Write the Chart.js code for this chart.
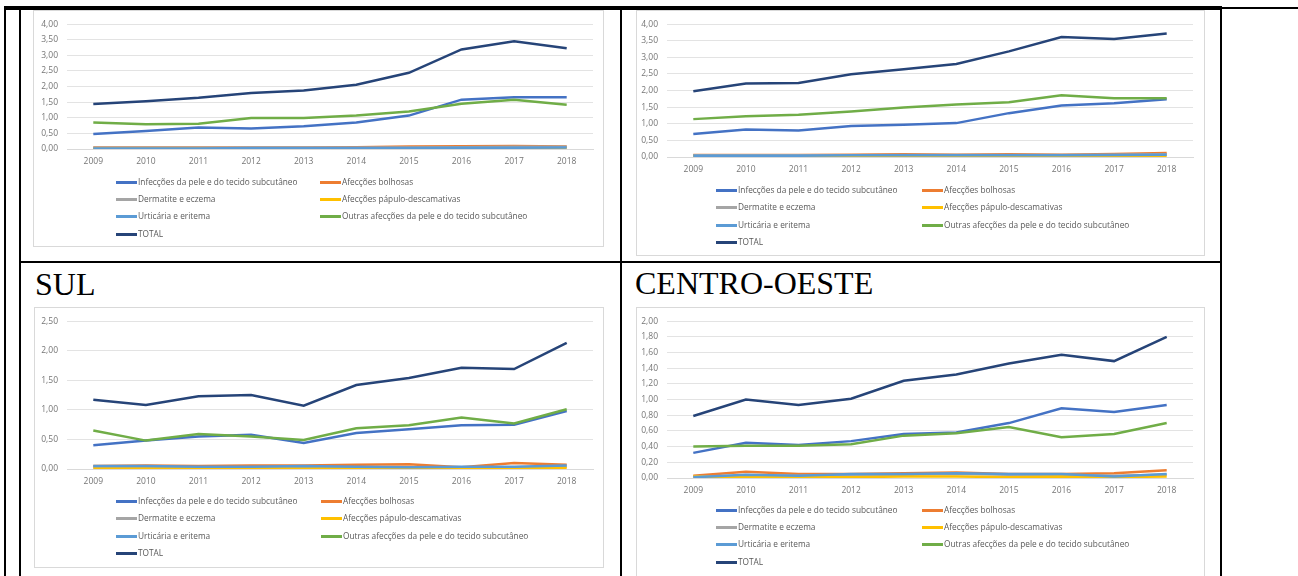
<!DOCTYPE html>
<html>
<head>
<meta charset="utf-8">
<script src="https://cdn.jsdelivr.net/npm/chart.js@4.4.1/dist/chart.umd.min.js"></script>
<style>
html, body { margin:0; padding:0; background:#fff; width:1298px; height:576px; overflow:hidden; }
body { position:relative; }
.ln { position:absolute; background:#000; }
.box { position:absolute; border:1px solid #d9d9d9; box-sizing:border-box; background:#fff; }
.cv { position:absolute; }
.titulo { position:absolute; font-family:'Liberation Serif','Times New Roman',serif; font-size:32px; line-height:32px; color:#000; }
.leg { position:absolute; font-family:'Open Sans',sans-serif; font-size:8.3px; color:#595959; white-space:nowrap; line-height:10px; height:10px; }
.leg i { position:absolute; left:0; top:4px; width:21px; height:3px; }
.leg span { position:absolute; left:22px; top:0; }
</style>
</head>
<body>

<!-- table lines -->
<div class="ln" style="left:4px;top:6px;width:1218px;height:4px"></div>
<div class="ln" style="left:1222px;top:7px;width:76px;height:2px"></div>
<div class="ln" style="left:4px;top:6px;width:2px;height:570px"></div>
<div class="ln" style="left:19px;top:6px;width:2px;height:570px"></div>
<div class="ln" style="left:620px;top:6px;width:2px;height:570px"></div>
<div class="ln" style="left:1220px;top:6px;width:2px;height:570px"></div>
<div class="ln" style="left:19px;top:261px;width:1203px;height:2px"></div>

<div class="titulo" style="left:35px;top:268px">SUL</div>
<div class="titulo" style="left:635px;top:267px">CENTRO-OESTE</div>

<script>
const anos = ['2009', '2010', '2011', '2012', '2013', '2014', '2015', '2016', '2017', '2018'];

const nomes = [
  'Infecções da pele e do tecido subcutâneo',
  'Afecções bolhosas',
  'Dermatite e eczema',
  'Afecções pápulo-descamativas',
  'Urticária e eritema',
  'Outras afecções da pele e do tecido subcutâneo',
  'TOTAL'
];
const cores = ['#4472C4', '#ED7D31', '#A5A5A5', '#FFC000', '#5B9BD5', '#70AD47', '#264478'];

// painel superior esquerdo
const aInfec  = [0.48, 0.58, 0.69, 0.66, 0.73, 0.85, 1.07, 1.58, 1.66, 1.66];
const aBolh   = [0.05, 0.05, 0.05, 0.05, 0.05, 0.06, 0.08, 0.09, 0.10, 0.08];
const aDerm   = [0.04, 0.04, 0.04, 0.04, 0.04, 0.04, 0.05, 0.06, 0.07, 0.07];
const aPapulo = [0.01, 0.01, 0.01, 0.01, 0.01, 0.01, 0.01, 0.02, 0.02, 0.02];
const aUrtic  = [0.02, 0.02, 0.02, 0.03, 0.03, 0.03, 0.03, 0.04, 0.04, 0.05];
const aOutras = [0.85, 0.79, 0.81, 0.99, 0.99, 1.07, 1.20, 1.45, 1.58, 1.42];
const aTotal  = [1.44, 1.53, 1.64, 1.79, 1.87, 2.06, 2.44, 3.19, 3.45, 3.23];

// painel superior direito
const bInfec  = [0.69, 0.83, 0.80, 0.93, 0.97, 1.02, 1.32, 1.55, 1.62, 1.74];
const bBolh   = [0.06, 0.06, 0.06, 0.07, 0.08, 0.07, 0.08, 0.07, 0.09, 0.12];
const bDerm   = [0.05, 0.05, 0.05, 0.05, 0.06, 0.06, 0.06, 0.06, 0.07, 0.08];
const bPapulo = [0.02, 0.02, 0.02, 0.02, 0.02, 0.02, 0.02, 0.02, 0.02, 0.03];
const bUrtic  = [0.04, 0.04, 0.04, 0.05, 0.05, 0.05, 0.05, 0.05, 0.06, 0.07];
const bOutras = [1.14, 1.23, 1.27, 1.37, 1.49, 1.58, 1.65, 1.86, 1.77, 1.77];
const bTotal  = [1.98, 2.21, 2.23, 2.49, 2.64, 2.80, 3.18, 3.61, 3.55, 3.72];

// SUL
const sulInfec  = [0.40, 0.48, 0.55, 0.58, 0.44, 0.61, 0.67, 0.74, 0.75, 0.98];
const sulBolh   = [0.05, 0.06, 0.05, 0.06, 0.06, 0.07, 0.08, 0.03, 0.10, 0.07];
const sulDerm   = [0.03, 0.03, 0.03, 0.03, 0.03, 0.03, 0.03, 0.03, 0.03, 0.04];
const sulPapulo = [0.01, 0.01, 0.01, 0.01, 0.01, 0.01, 0.01, 0.01, 0.01, 0.02];
const sulUrtic  = [0.05, 0.05, 0.04, 0.04, 0.05, 0.04, 0.03, 0.04, 0.04, 0.06];
const sulOutras = [0.65, 0.48, 0.59, 0.55, 0.49, 0.69, 0.74, 0.87, 0.77, 1.01];
const sulTotal  = [1.17, 1.08, 1.23, 1.25, 1.07, 1.42, 1.54, 1.71, 1.69, 2.13];

// CENTRO-OESTE
const coInfec  = [0.32, 0.45, 0.42, 0.47, 0.56, 0.58, 0.70, 0.89, 0.84, 0.93];
const coBolh   = [0.03, 0.08, 0.05, 0.05, 0.06, 0.07, 0.05, 0.05, 0.06, 0.10];
const coDerm   = [0.02, 0.03, 0.03, 0.04, 0.04, 0.05, 0.04, 0.04, 0.03, 0.04];
const coPapulo = [0.02, 0.01, 0.01, 0.01, 0.02, 0.02, 0.01, 0.02, 0.01, 0.02];
const coUrtic  = [0.01, 0.04, 0.03, 0.05, 0.05, 0.06, 0.05, 0.05, 0.02, 0.05];
const coOutras = [0.40, 0.41, 0.41, 0.43, 0.54, 0.57, 0.65, 0.52, 0.56, 0.70];
const coTotal  = [0.79, 1.00, 0.93, 1.01, 1.24, 1.32, 1.46, 1.57, 1.49, 1.80];

// eixo y de cada painel
const yMax  = [4, 4, 2.5, 2];
const yPasso = [0.5, 0.5, 0.5, 0.2];

const series = [
  [aInfec, aBolh, aDerm, aPapulo, aUrtic, aOutras, aTotal],
  [bInfec, bBolh, bDerm, bPapulo, bUrtic, bOutras, bTotal],
  [sulInfec, sulBolh, sulDerm, sulPapulo, sulUrtic, sulOutras, sulTotal],
  [coInfec, coBolh, coDerm, coPapulo, coUrtic, coOutras, coTotal]
];

// box: x, y, w, h ; plot: left, top, right, bottom (page px)
const layouts = [
  { box: [33, 10, 571, 237],  plot: [67, 21.5, 593, 149],  legTop: 182, legRow: 17.2, legCols: [116, 320] },
  { box: [636, 10, 569, 246], plot: [667, 22, 1193, 157],  legTop: 190, legRow: 17.4, legCols: [716, 922] },
  { box: [34, 307, 570, 261], plot: [67, 318.5, 593, 469], legTop: 501, legRow: 17.4, legCols: [116, 321] },
  { box: [636, 307, 569, 280], plot: [667, 318.5, 1193, 478], legTop: 509.5, legRow: 17.4, legCols: [716, 922] }
];

function fmt(v) {
  return v.toFixed(2).replace('.', ',');
}

function painel(k) {
  const L = layouts[k];
  const [bx, by, bw, bh] = L.box;
  const [pl, pt, pr, pb] = L.plot;

  const box = document.createElement('div');
  box.className = 'box';
  box.style.cssText = `left:${bx}px;top:${by}px;width:${bw}px;height:${bh}px`;
  document.body.appendChild(box);

  const canvas = document.createElement('canvas');
  canvas.className = 'cv';
  canvas.width = bw;
  canvas.height = bh;
  canvas.style.cssText = `left:${bx}px;top:${by}px;width:${bw}px;height:${bh}px`;
  document.body.appendChild(canvas);

  const datasets = nomes.map((nome, i) => ({
    label: nome,
    data: series[k][i],
    borderColor: cores[i],
    backgroundColor: cores[i],
    borderWidth: 2.5,
    pointRadius: 0,
    tension: 0,
    fill: false,
    order: nomes.length - i
  }));

  const chart = new Chart(canvas, {
    type: 'line',
    data: { labels: anos, datasets: datasets },
    options: {
      responsive: false,
      animation: false,
      devicePixelRatio: 1,
      layout: { padding: { top: pt - by, right: bx + bw - pr, left: 0, bottom: 0 } },
      scales: {
        x: {
          offset: true,
          grid: { display: false, drawTicks: false },
          border: { color: '#d9d9d9', width: 1 },
          ticks: { color: '#767676', font: { family: 'Open Sans', size: 8.5 }, padding: 7, maxRotation: 0, autoSkip: false },
          afterFit: s => { s.height = by + bh - pb; }
        },
        y: {
          min: 0,
          max: yMax[k],
          grid: { color: '#e3e3e3', drawTicks: false },
          border: { display: false },
          ticks: { stepSize: yPasso[k], color: '#767676', font: { family: 'Open Sans', size: 8.5 }, padding: 9, callback: v => fmt(v) },
          afterFit: s => { s.width = pl - bx; }
        }
      },
      plugins: { legend: { display: false }, tooltip: { enabled: false } }
    }
  });

  // legenda em duas colunas, como no Excel
  chart.data.datasets.forEach((ds, i) => {
    const d = document.createElement('div');
    d.className = 'leg';
    const row = Math.floor(i / 2), col = i % 2;
    d.style.left = L.legCols[col] + 'px';
    d.style.top = Math.round(L.legTop + row * L.legRow - 5) + 'px';
    d.innerHTML = `<i style="background:${ds.borderColor}"></i><span>${ds.label}</span>`;
    document.body.appendChild(d);
  });
}

for (let k = 0; k < 4; k++) painel(k);
</script>
</body>
</html>
